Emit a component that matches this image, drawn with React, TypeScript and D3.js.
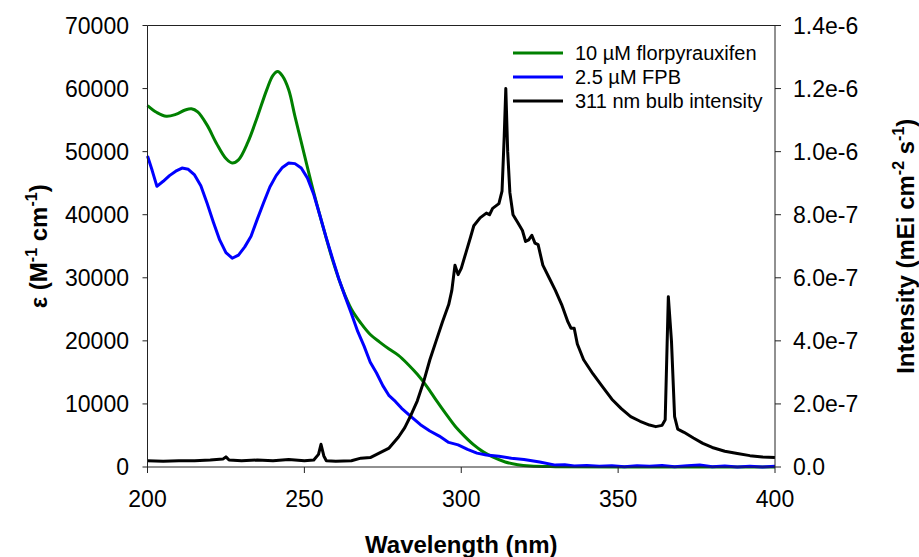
import React from "react";
import * as d3 from "d3";

// wavelength (nm), epsilon (M-1 cm-1)
const florpyrauxifen: [number, number][] = [
  [200, 57300], [203, 56200], [206, 55600], [209, 55900], [212, 56600], [214, 56800],
  [216, 56300], [219, 54200], [222, 51300], [225, 48900], [227, 48200], [229, 48700],
  [232, 51500], [235, 55500], [238, 59800], [240, 62100], [241.5, 62700], [243, 62000],
  [245, 59800], [247, 55600], [250, 49500], [253, 43500], [256, 38000], [259, 32800],
  [262, 28400], [265, 25000], [268, 22800], [271, 21000], [274, 19800], [277, 18700],
  [280, 17700], [283, 16300], [286, 14700], [289, 12800], [292, 10600], [295, 8500],
  [298, 6500], [301, 4900], [304, 3500], [307, 2400], [310, 1600], [314, 800],
  [318, 350], [322, 150], [330, 50], [350, 0], [400, 0],
];

const fpb: [number, number][] = [
  [200, 49300], [201.5, 47000], [203, 44500], [205, 45300], [207, 46200], [209, 46900],
  [211, 47400], [213, 47200], [215, 46300], [217, 44600], [219, 41800], [221, 38800],
  [223, 36000], [225, 34000], [227, 33100], [229, 33600], [231, 34900], [233, 36600],
  [235, 39300], [237, 41900], [239, 44400], [241, 46200], [243, 47500], [245, 48200],
  [247, 48100], [249, 47400], [251, 45800], [253, 43200], [255, 39800], [257, 36300],
  [259, 33000], [261, 29800], [263, 27000], [265, 24300], [267, 21500], [269, 19200],
  [271, 16600], [273, 14900], [275, 12900], [277, 11300], [279, 10400], [281, 9300],
  [284, 8000], [287, 6700], [290, 5700], [293, 4900], [296, 3900], [299, 3500],
  [302, 2800], [305, 2200], [308, 1900], [312, 1700], [316, 1400], [320, 1200],
  [325, 800], [330, 300], [333, 350], [336, 150], [340, 250], [344, 100], [348, 200],
  [352, 50], [356, 200], [360, 100], [364, 250], [368, 50], [372, 200], [376, 300],
  [380, 50], [384, 150], [388, 0], [392, 100], [396, 0], [400, 100],
];

// wavelength (nm), intensity (x 1e-7 mEi cm-2 s-1)
const bulb: [number, number][] = [
  [200, 0.2], [205, 0.18], [210, 0.2], [215, 0.2], [220, 0.22], [224, 0.25], [225, 0.32],
  [226, 0.22], [230, 0.2], [235, 0.22], [240, 0.2], [245, 0.24], [250, 0.2], [253, 0.22],
  [254.5, 0.4], [255.3, 0.72], [256.2, 0.35], [257, 0.2], [260, 0.18], [265, 0.2],
  [268, 0.28], [271, 0.3], [274, 0.45], [277, 0.6], [280, 0.95], [282, 1.25], [284, 1.65],
  [286, 2.1], [288, 2.7], [290, 3.4], [292, 4.0], [294, 4.6], [296, 5.15], [297, 5.6],
  [298, 6.4], [299, 6.1], [300, 6.3], [301.5, 6.8], [303, 7.3], [304, 7.65], [306, 7.9],
  [308, 8.05], [309, 8.0], [310, 8.2], [312, 8.35], [313, 8.75], [313.7, 10.5],
  [314.2, 12.0], [314.8, 10.0], [315.5, 8.7], [316.5, 8.0], [318, 7.75], [319.5, 7.5],
  [320.5, 7.15], [321.5, 7.2], [322.5, 7.35], [323.5, 7.1], [324.5, 7.05], [326, 6.4],
  [328, 6.0], [330, 5.6], [332, 5.15], [334, 4.6], [335, 4.4], [336, 4.4], [337, 3.9],
  [339, 3.4], [342, 2.95], [345, 2.55], [348, 2.15], [351, 1.85], [354, 1.6], [357, 1.45],
  [360, 1.33], [362, 1.28], [364, 1.32], [365, 1.5], [366, 5.4], [367, 4.0], [368, 1.6],
  [369, 1.2], [371, 1.1], [374, 0.92], [377, 0.75], [380, 0.62], [384, 0.5], [388, 0.43],
  [392, 0.36], [396, 0.32], [400, 0.3],
];

const xTicks = [200, 250, 300, 350, 400];
const leftTicks = [0, 10000, 20000, 30000, 40000, 50000, 60000, 70000];
const rightTicks = [0, 2, 4, 6, 8, 10, 12, 14];
const rightTickLabels = ["0.0", "2.0e-7", "4.0e-7", "6.0e-7", "8.0e-7", "1.0e-6", "1.2e-6", "1.4e-6"];

const legendItems = [
  { label: "10 µM florpyrauxifen", color: "#008000" },
  { label: "2.5 µM FPB", color: "#0000ff" },
  { label: "311 nm bulb intensity", color: "#000000" },
];

const W = 919;
const H = 557;
const left = 147.5;
const right = 775;
const top = 25.5;
const bottom = 467;
const font = "'Liberation Sans', Arial, sans-serif";
const axisColor = "#222";

export default function App() {
  const x = d3.scaleLinear().domain([200, 400]).range([left, right]);
  const yL = d3.scaleLinear().domain([0, 70000]).range([bottom, top]);
  const yR = d3.scaleLinear().domain([0, 14]).range([bottom, top]);

  const greenLine = d3
    .line<[number, number]>()
    .x((d) => x(d[0]))
    .y((d) => yL(d[1]))
    .curve(d3.curveCatmullRom)(florpyrauxifen);
  const blueLine = d3
    .line<[number, number]>()
    .x((d) => x(d[0]))
    .y((d) => yL(d[1]))(fpb);
  const blackLine = d3
    .line<[number, number]>()
    .x((d) => x(d[0]))
    .y((d) => yR(d[1]))(bulb);

  return (
    <svg
      width={W}
      height={H}
      style={{ position: "absolute", left: 0, top: 0, background: "#fff" }}
      fontFamily={font}
    >
      {/* curves */}
      <path d={greenLine ?? ""} fill="none" stroke="#008000" strokeWidth={3} />
      <path d={blueLine ?? ""} fill="none" stroke="#0000ff" strokeWidth={3} strokeLinejoin="round" />
      <path d={blackLine ?? ""} fill="none" stroke="#000" strokeWidth={3} strokeLinejoin="round" />

      {/* frame */}
      <line x1={left} x2={right} y1={top} y2={top} stroke={axisColor} strokeWidth={1} />
      <line x1={left} x2={right} y1={bottom} y2={bottom} stroke={axisColor} strokeWidth={1} />
      <line x1={left} x2={left} y1={top} y2={bottom} stroke={axisColor} strokeWidth={1} />
      <line x1={right} x2={right} y1={top} y2={bottom} stroke={axisColor} strokeWidth={1} />

      {/* x axis */}
      {xTicks.map((t) => (
        <g key={t}>
          <line x1={x(t)} x2={x(t)} y1={bottom} y2={bottom + 6} stroke={axisColor} />
          <text x={x(t)} y={507} fontSize={23} textAnchor="middle">
            {t}
          </text>
        </g>
      ))}
      <text x={(left + right) / 2} y={553} fontSize={24} fontWeight="bold" textAnchor="middle">
        Wavelength (nm)
      </text>

      {/* left axis */}
      {leftTicks.map((t) => (
        <g key={t}>
          <line x1={left - 5} x2={left} y1={yL(t)} y2={yL(t)} stroke={axisColor} />
          <text x={129} y={yL(t) + 8} fontSize={23} textAnchor="end">
            {t}
          </text>
        </g>
      ))}
      <text
        transform={`translate(47, ${(top + bottom) / 2}) rotate(-90)`}
        fontSize={24}
        fontWeight="bold"
        textAnchor="middle"
      >
        ε (M<tspan dy={-10} fontSize={16}>-1</tspan>
        <tspan dy={10}> cm</tspan>
        <tspan dy={-10} fontSize={16}>-1</tspan>
        <tspan dy={10}>)</tspan>
      </text>

      {/* right axis */}
      {rightTicks.map((t, i) => (
        <g key={t}>
          <line x1={right} x2={right + 6} y1={yR(t)} y2={yR(t)} stroke={axisColor} />
          <text x={793} y={yR(t) + 8} fontSize={23} textAnchor="start">
            {rightTickLabels[i]}
          </text>
        </g>
      ))}
      <text
        transform={`translate(914, ${(top + bottom) / 2}) rotate(-90)`}
        fontSize={24}
        fontWeight="bold"
        textAnchor="middle"
      >
        Intensity (mEi cm<tspan dy={-10} fontSize={16}>-2</tspan>
        <tspan dy={10}> s</tspan>
        <tspan dy={-10} fontSize={16}>-1</tspan>
        <tspan dy={10}>)</tspan>
      </text>

      {/* legend */}
      {legendItems.map((d, i) => (
        <g key={d.label} transform={`translate(513, ${53 + i * 24})`}>
          <line x1={0} x2={50} y1={0} y2={0} stroke={d.color} strokeWidth={3} />
          <text x={62} y={7} fontSize={20}>
            {d.label}
          </text>
        </g>
      ))}
    </svg>
  );
}
